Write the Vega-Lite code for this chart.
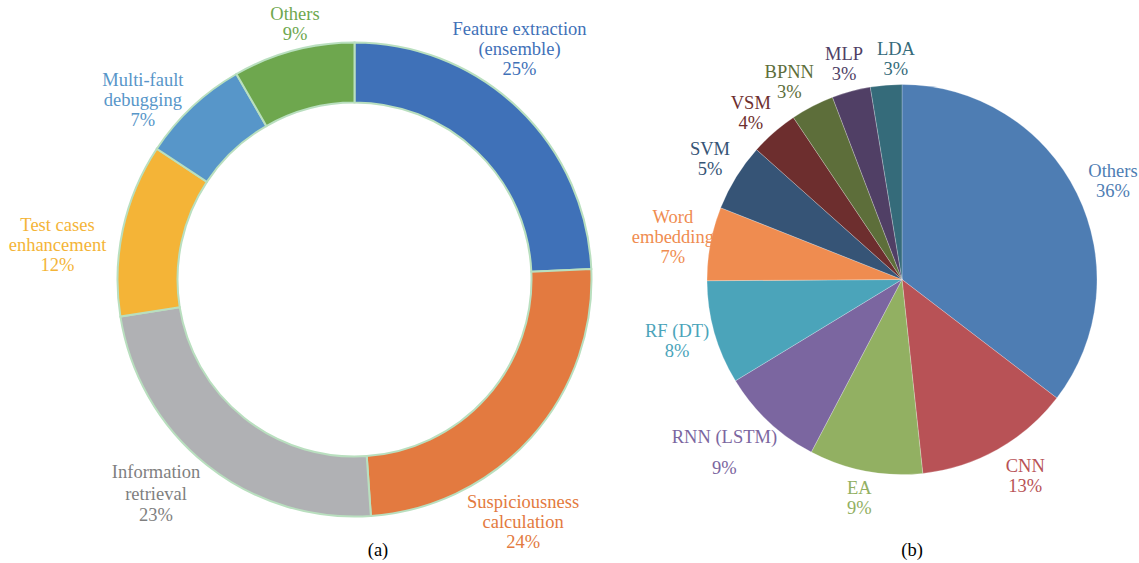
{
  "$schema": "https://vega.github.io/schema/vega-lite/v6.json",
  "width": 1139,
  "height": 559,
  "autosize": {"type": "none"},
  "padding": {"left": 0, "right": 0, "top": 0, "bottom": 4},
  "background": "#ffffff",
  "config": {
    "font": "Liberation Serif, DejaVu Serif, serif",
    "view": {"stroke": null},
    "text": {"font": "Liberation Serif, DejaVu Serif, serif", "fontSize": 18.5, "lineHeight": 20, "lineBreak": "\n", "align": "center", "baseline": "middle"}
  },
  "datasets": {
    "a": [
      {"panel": "a", "i": 1, "name": "Feature extraction", "label": "Feature extraction\n(ensemble)\n25%", "value": 24.3},
      {"panel": "a", "i": 2, "name": "Suspiciousness calculation", "label": "Suspiciousness\ncalculation\n24%", "value": 24.6},
      {"panel": "a", "i": 3, "name": "Information retrieval", "label": "Information\nretrieval\n23%", "value": 23.6},
      {"panel": "a", "i": 4, "name": "Test cases enhancement", "label": "Test cases\nenhancement\n12%", "value": 11.8},
      {"panel": "a", "i": 5, "name": "Multi-fault debugging", "label": "Multi-fault\ndebugging\n7%", "value": 7.4},
      {"panel": "a", "i": 6, "name": "Others", "label": "Others\n9%", "value": 8.3}
    ],
    "b": [
      {"panel": "b", "i": 1, "name": "Others", "label": "Others\n36%", "value": 35.4},
      {"panel": "b", "i": 2, "name": "CNN", "label": "CNN\n13%", "value": 12.9},
      {"panel": "b", "i": 3, "name": "EA", "label": "EA\n9%", "value": 9.4},
      {"panel": "b", "i": 4, "name": "RNN (LSTM)", "label": "RNN (LSTM)\n9%", "value": 8.6},
      {"panel": "b", "i": 5, "name": "RF (DT)", "label": "RF (DT)\n8%", "value": 8.6},
      {"panel": "b", "i": 6, "name": "Word embedding", "label": "Word\nembedding\n7%", "value": 6.1},
      {"panel": "b", "i": 7, "name": "SVM", "label": "SVM\n5%", "value": 5.6},
      {"panel": "b", "i": 8, "name": "VSM", "label": "VSM\n4%", "value": 4.0},
      {"panel": "b", "i": 9, "name": "BPNN", "label": "BPNN\n3%", "value": 3.6},
      {"panel": "b", "i": 10, "name": "MLP", "label": "MLP\n3%", "value": 3.2},
      {"panel": "b", "i": 11, "name": "LDA", "label": "LDA\n3%", "value": 2.6}
    ],
    "captions": [
      {"panel": "a", "cap": "(a)"},
      {"panel": "b", "cap": "(b)"}
    ]
  },
  "encoding": {
    "x": {"field": "panel", "type": "nominal", "scale": {"type": "point", "domain": ["a", "b"], "range": [354.5, 902], "padding": 0}, "axis": null}
  },
  "layer": [
    {
      "data": {"name": "a"},
      "encoding": {
        "theta": {"field": "value", "type": "quantitative", "stack": true},
        "order": {"field": "i", "type": "quantitative"},
        "color": {
          "field": "name", "type": "nominal", "legend": null,
          "scale": {
            "domain": ["Feature extraction", "Suspiciousness calculation", "Information retrieval", "Test cases enhancement", "Multi-fault debugging", "Others"],
            "range": ["#3F71B8", "#E37A40", "#B0B1B4", "#F4B437", "#5796C9", "#6EA74E"]
          }
        }
      },
      "layer": [
        {"mark": {"type": "arc", "outerRadius": 237, "innerRadius": 177, "stroke": "#B9DFBF", "strokeWidth": 2}},
        {"mark": {"type": "text", "font": "Liberation Serif, DejaVu Serif, serif", "radius": 285, "dx": -32, "dy": -44.5},
         "encoding": {"text": {"field": "label"}, "opacity": {"condition": {"test": "datum.name === 'Feature extraction'", "value": 1}, "value": 0}}},
        {"mark": {"type": "text", "font": "Liberation Serif, DejaVu Serif, serif", "radius": 285, "dx": -44, "dy": 32.5},
         "encoding": {"text": {"field": "label"}, "opacity": {"condition": {"test": "datum.name === 'Suspiciousness calculation'", "value": 1}, "value": 0}}},
        {"mark": {"type": "text", "font": "Liberation Serif, DejaVu Serif, serif", "radius": 285, "dx": -21, "dy": -30, "lineHeight": 21.5},
         "encoding": {"text": {"field": "label"}, "color": {"value": "#7F7F7F"}, "opacity": {"condition": {"test": "datum.name === 'Information retrieval'", "value": 1}, "value": 0}}},
        {"mark": {"type": "text", "font": "Liberation Serif, DejaVu Serif, serif", "radius": 285, "dx": -18.5, "dy": 5.5},
         "encoding": {"text": {"field": "label"}, "opacity": {"condition": {"test": "datum.name === 'Test cases enhancement'", "value": 1}, "value": 0}}},
        {"mark": {"type": "text", "font": "Liberation Serif, DejaVu Serif, serif", "radius": 285, "dx": -16.5, "dy": 8.5},
         "encoding": {"text": {"field": "label"}, "opacity": {"condition": {"test": "datum.name === 'Multi-fault debugging'", "value": 1}, "value": 0}}},
        {"mark": {"type": "text", "font": "Liberation Serif, DejaVu Serif, serif", "radius": 285, "dx": 14, "dy": 10},
         "encoding": {"text": {"field": "label"}, "opacity": {"condition": {"test": "datum.name === 'Others'", "value": 1}, "value": 0}}}
      ]
    },
    {
      "data": {"name": "b"},
      "encoding": {
        "theta": {"field": "value", "type": "quantitative", "stack": true},
        "order": {"field": "i", "type": "quantitative"},
        "color": {
          "field": "name", "type": "nominal", "legend": null,
          "scale": {
            "domain": ["Others", "CNN", "EA", "RNN (LSTM)", "RF (DT)", "Word embedding", "SVM", "VSM", "BPNN", "MLP", "LDA"],
            "range": ["#4E7DB3", "#B85256", "#92B062", "#7B66A0", "#4BA4BA", "#EF8C50", "#365476", "#6D2E2E", "#5D6E3A", "#503F65", "#356B7A"]
          }
        }
      },
      "layer": [
        {"mark": {"type": "arc", "outerRadius": 195, "stroke": "#ffffff", "strokeWidth": 0.4, "strokeOpacity": 0.6}},
        {"mark": {"type": "text", "font": "Liberation Serif, DejaVu Serif, serif", "radius": 228, "dx": 6.5, "dy": -7.5},
         "encoding": {"text": {"field": "label"}, "opacity": {"condition": {"test": "datum.name === 'Others'", "value": 1}, "value": 0}}},
        {"mark": {"type": "text", "font": "Liberation Serif, DejaVu Serif, serif", "radius": 228, "dx": 11.5, "dy": -12.5},
         "encoding": {"text": {"field": "label"}, "opacity": {"condition": {"test": "datum.name === 'CNN'", "value": 1}, "value": 0}}},
        {"mark": {"type": "text", "font": "Liberation Serif, DejaVu Serif, serif", "radius": 228, "dx": 0, "dy": -15.5},
         "encoding": {"text": {"field": "label"}, "opacity": {"condition": {"test": "datum.name === 'EA'", "value": 1}, "value": 0}}},
        {"mark": {"type": "text", "font": "Liberation Serif, DejaVu Serif, serif", "radius": 228, "dx": -21.5, "dy": -8.5, "lineHeight": 31},
         "encoding": {"text": {"field": "label"}, "opacity": {"condition": {"test": "datum.name === 'RNN (LSTM)'", "value": 1}, "value": 0}}},
        {"mark": {"type": "text", "font": "Liberation Serif, DejaVu Serif, serif", "radius": 228, "dx": -5.5, "dy": -10.5},
         "encoding": {"text": {"field": "label"}, "opacity": {"condition": {"test": "datum.name === 'RF (DT)'", "value": 1}, "value": 0}}},
        {"mark": {"type": "text", "font": "Liberation Serif, DejaVu Serif, serif", "radius": 228, "dx": -5, "dy": -20},
         "encoding": {"text": {"field": "label"}, "opacity": {"condition": {"test": "datum.name === 'Word embedding'", "value": 1}, "value": 0}}},
        {"mark": {"type": "text", "font": "Liberation Serif, DejaVu Serif, serif", "radius": 228, "dx": 2, "dy": -10.5},
         "encoding": {"text": {"field": "label"}, "opacity": {"condition": {"test": "datum.name === 'SVM'", "value": 1}, "value": 0}}},
        {"mark": {"type": "text", "font": "Liberation Serif, DejaVu Serif, serif", "radius": 228, "dx": -1.5, "dy": -4.5},
         "encoding": {"text": {"field": "label"}, "opacity": {"condition": {"test": "datum.name === 'VSM'", "value": 1}, "value": 0}}},
        {"mark": {"type": "text", "font": "Liberation Serif, DejaVu Serif, serif", "radius": 228, "dx": -8, "dy": -5},
         "encoding": {"text": {"field": "label"}, "opacity": {"condition": {"test": "datum.name === 'BPNN'", "value": 1}, "value": 0}}},
        {"mark": {"type": "text", "font": "Liberation Serif, DejaVu Serif, serif", "radius": 228, "dx": 1.5, "dy": -5.5},
         "encoding": {"text": {"field": "label"}, "opacity": {"condition": {"test": "datum.name === 'MLP'", "value": 1}, "value": 0}}},
        {"mark": {"type": "text", "font": "Liberation Serif, DejaVu Serif, serif", "radius": 228, "dx": 12.5, "dy": -3.5},
         "encoding": {"text": {"field": "label"}, "opacity": {"condition": {"test": "datum.name === 'LDA'", "value": 1}, "value": 0}}}
      ]
    },
    {
      "data": {"name": "captions"},
      "transform": [{"filter": "datum.panel === 'a'"}],
      "mark": {"type": "text", "font": "Liberation Serif, DejaVu Serif, serif", "dx": 23.5, "dy": 270.5, "color": "#000000"},
      "encoding": {"text": {"field": "cap"}}
    },
    {
      "data": {"name": "captions"},
      "transform": [{"filter": "datum.panel === 'b'"}],
      "mark": {"type": "text", "font": "Liberation Serif, DejaVu Serif, serif", "dx": 10, "dy": 270.5, "color": "#000000"},
      "encoding": {"text": {"field": "cap"}}
    }
  ],
  "resolve": {"scale": {"color": "independent", "theta": "independent"}}
}
